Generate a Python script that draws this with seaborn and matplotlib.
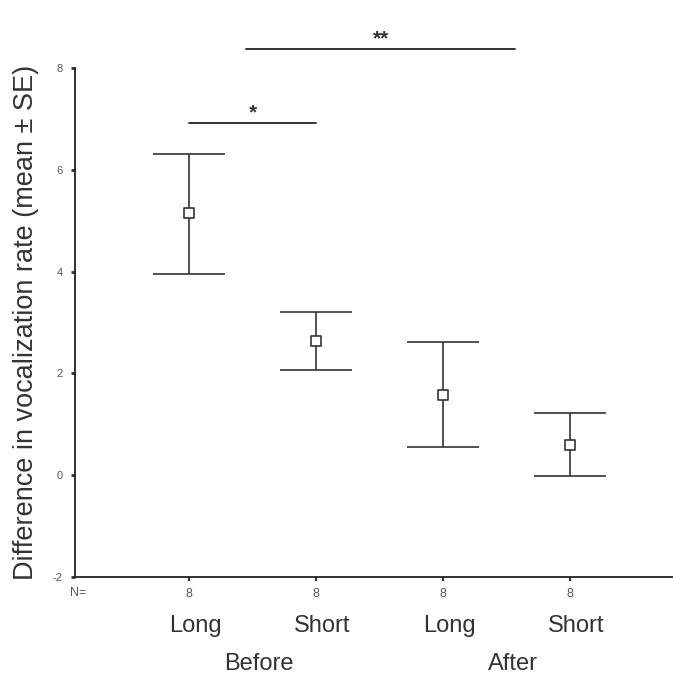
import numpy as np
import pandas as pd
import matplotlib
matplotlib.use("Agg")
import matplotlib.pyplot as plt
import matplotlib.transforms as mtransforms
import seaborn as sns

# ---- data ----
periods = ["Before", "Before", "After", "After"]
durations = ["Long", "Short", "Long", "Short"]
means = [5.15, 2.63, 1.57, 0.59]
upper = [6.31, 3.20, 2.61, 1.22]
lower = [3.95, 2.06, 0.55, -0.02]
n_labels = ["8", "8", "8", "8"]
sig_pairs = [(0, 1, 6.92, "*"), (0.45, 2.57, 8.37, "**")]
yticks = [-2, 0, 2, 4, 6, 8]

df = pd.DataFrame({"period": periods, "duration": durations, "mean": means,
                   "upper": upper, "lower": lower})
df["pos"] = np.arange(len(df))

sns.set_theme(style="white")
plt.rcParams["font.family"] = ["Liberation Sans", "DejaVu Sans"]

fig = plt.figure(figsize=(6.73, 6.81), dpi=100)
ax = fig.add_axes([75 / 673, 104 / 681, 598 / 673, 509 / 681])

line_col = "#333333"
ax.errorbar(df["pos"], df["mean"],
            yerr=[df["mean"] - df["lower"], df["upper"] - df["mean"]],
            fmt="none", ecolor=line_col, elinewidth=1.2, capsize=26, capthick=1.2, zorder=2)
sns.scatterplot(data=df, x="pos", y="mean", marker="s", s=55, facecolor="white",
                edgecolor=line_col, linewidth=1.2, ax=ax, zorder=3, legend=False)

ax.set_xlim(-0.898, 3.81)
ax.set_ylim(-2, 8)
ax.set_yticks(yticks)
ax.set_yticklabels([str(t) for t in yticks], fontsize=8, color="#555555")
ax.set_xticks(df["pos"])
ax.set_xticklabels(n_labels, fontsize=9, color="#555555")
ax.set_xlabel("")
ax.set_ylabel("Difference in vocalization rate (mean \u00b1 SE)", fontsize=19.5,
              color="#333333", labelpad=10)
ax.tick_params(axis="y", length=3, width=2, color="#333333", pad=6, left=True)
ax.tick_params(axis="x", length=3, width=1.5, color="#333333", pad=5, bottom=True)

for side in ["top", "right"]:
    ax.spines[side].set_visible(False)
for side in ["left", "bottom"]:
    ax.spines[side].set_color("#222222")
    ax.spines[side].set_linewidth(1.3)

trans = mtransforms.blended_transform_factory(ax.transData, ax.transAxes)
ax.text(-0.874, -0.019, "N=", transform=trans, fontsize=9, color="#555555",
        ha="center", va="top")
for p, d in zip(df["pos"], df["duration"]):
    ax.text(p + 0.05, -0.075, d, transform=trans, fontsize=17, color="#333333",
            ha="center", va="top")
for g in ["Before", "After"]:
    mid = df.loc[df["period"] == g, "pos"].mean()
    ax.text(mid + 0.05, -0.15, g, transform=trans, fontsize=17, color="#333333",
            ha="center", va="top")

for x0, x1, y, lab in sig_pairs:
    ax.plot([x0, x1], [y, y], color=line_col, lw=1.4, clip_on=False)
    ax.text((x0 + x1) / 2, y + 0.02, lab, fontsize=15, color="#333333", ha="center",
            va="bottom", fontweight="bold", clip_on=False)

fig.savefig("out.png", dpi=100)
